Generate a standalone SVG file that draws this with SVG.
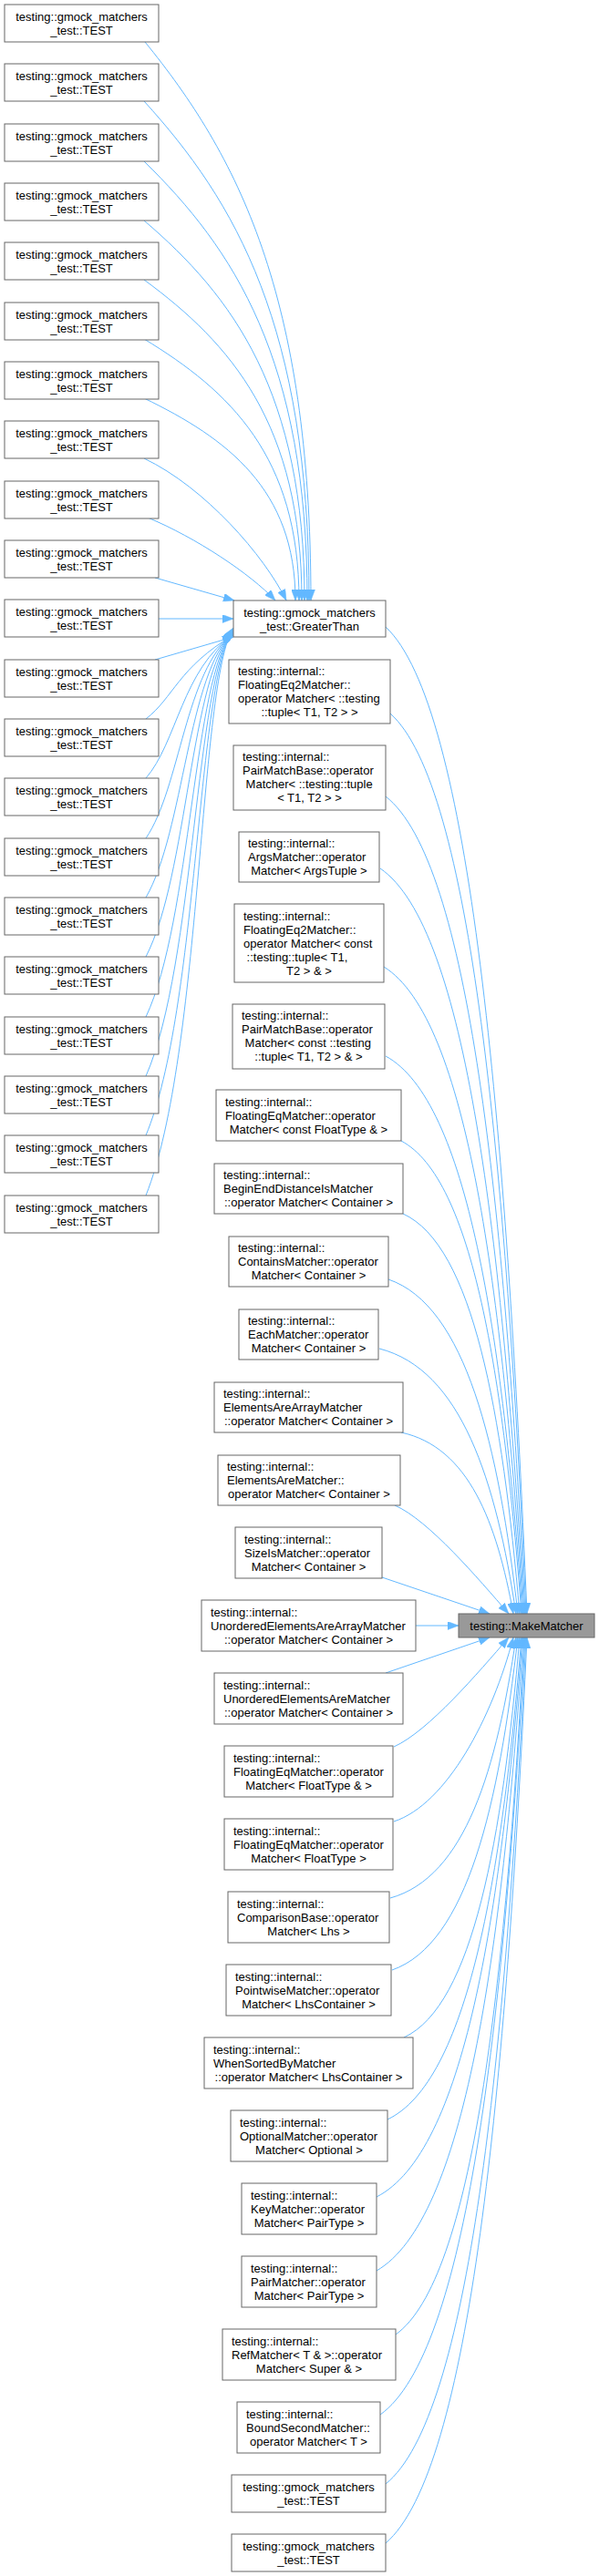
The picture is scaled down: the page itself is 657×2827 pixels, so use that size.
<svg xmlns="http://www.w3.org/2000/svg" width="657" height="2827" viewBox="0 0 657 2827">
<style>
.n rect{fill:#fff;stroke:#666;stroke-width:1}
.hl rect{fill:#999}
text{font-family:"Liberation Sans",Arial,Helvetica,sans-serif;font-size:13px;fill:#000}
.c{text-anchor:middle}
#edges path{fill:none;stroke:#63b8ff;stroke-width:1;marker-end:url(#ah)}
</style>
<defs>
<marker id="ah" viewBox="0 0 12 9" refX="12" refY="4.5" markerWidth="12" markerHeight="9" markerUnits="userSpaceOnUse" orient="auto">
<path d="M0,0 L12,4.5 L0,9 Z" fill="#63b8ff" stroke="#63b8ff" stroke-width="0.5"/>
</marker>
</defs>
<rect x="0" y="0" width="657" height="2827" fill="#fff"/>
<g id="edges">
<path d="M159,46 C259,169 341,322 341,659"/>
<path d="M158,111 C258,221 339,358 339,659"/>
<path d="M158,177 C256,273 337,394 337,659"/>
<path d="M158,242 C255,325 334,430 334,659"/>
<path d="M158,307 C253,377 331,465 331,659"/>
<path d="M158,372 C252,429 328,501 328,659"/>
<path d="M158,437 C249,481 324,537 324,659"/>
<path d="M158,503 C225,535 290,610 314,659"/>
<path d="M162,568 C215,590 275,630 302,659"/>
<path d="M170,634 L257,659"/>
<path d="M174,679 L256,679"/>
<path d="M170,724 L256,699"/>
<path d="M160,789 C190,766 196,732 256,697"/>
<path d="M160,854 C194,815 200,734 256,696"/>
<path d="M160,920 C198,864 203,736 256,695"/>
<path d="M160,985 C202,912 206,738 256,694"/>
<path d="M160,1050 C206,961 209,740 256,693"/>
<path d="M160,1116 C210,1010 212,742 256,692"/>
<path d="M160,1181 C214,1058 214,744 256,691"/>
<path d="M160,1246 C218,1107 216,746 256,690"/>
<path d="M160,1312 C222,1156 218,748 256,689"/>
<path d="M423,688 C516,775 555,1229 578,1771"/>
<path d="M428,783 C517,862 555,1277 577,1771"/>
<path d="M423,874 C515,946 553,1322 576,1771"/>
<path d="M417,953 C512,1018 551,1362 575,1771"/>
<path d="M421,1061 C513,1118 551,1416 574,1771"/>
<path d="M423,1159 C513,1208 551,1465 573,1771"/>
<path d="M440,1252 C519,1294 552,1511 572,1771"/>
<path d="M442,1332 C519,1367 551,1551 570,1771"/>
<path d="M426,1404 C511,1433 547,1587 568,1771"/>
<path d="M416,1480 C506,1503 544,1625 566,1771"/>
<path d="M440,1572 C514,1588 545,1671 563,1771"/>
<path d="M433,1652 C470,1668 525,1733 558,1771"/>
<path d="M419,1731 L537,1771"/>
<path d="M456,1784 L503,1784"/>
<path d="M423,1836 L537,1797"/>
<path d="M432,1917 C470,1900 525,1835 558,1797"/>
<path d="M432,1999 C490,1980 540,1885 563,1797"/>
<path d="M428,2083 C511,2060 545,1940 566,1797"/>
<path d="M430,2162 C513,2133 547,1980 568,1797"/>
<path d="M443,2236 C519,2201 551,2017 570,1797"/>
<path d="M425,2326 C513,2284 550,2062 572,1797"/>
<path d="M413,2411 C509,2362 549,2104 573,1797"/>
<path d="M413,2492 C510,2436 550,2145 574,1797"/>
<path d="M434,2562 C519,2501 554,2180 575,1797"/>
<path d="M417,2650 C512,2582 552,2224 576,1797"/>
<path d="M423,2726 C515,2652 554,2262 577,1797"/>
<path d="M423,2791 C516,2711 555,2294 578,1797"/>
</g>
<g id="test0" class="n" transform="translate(5,5)"><rect width="169" height="41"/><text class="c" x="84.5" y="17.5">testing::gmock_matchers</text><text class="c" x="84.5" y="32.5">_test::TEST</text></g>
<g id="test1" class="n" transform="translate(5,70)"><rect width="169" height="41"/><text class="c" x="84.5" y="17.5">testing::gmock_matchers</text><text class="c" x="84.5" y="32.5">_test::TEST</text></g>
<g id="test2" class="n" transform="translate(5,136)"><rect width="169" height="41"/><text class="c" x="84.5" y="17.5">testing::gmock_matchers</text><text class="c" x="84.5" y="32.5">_test::TEST</text></g>
<g id="test3" class="n" transform="translate(5,201)"><rect width="169" height="41"/><text class="c" x="84.5" y="17.5">testing::gmock_matchers</text><text class="c" x="84.5" y="32.5">_test::TEST</text></g>
<g id="test4" class="n" transform="translate(5,266)"><rect width="169" height="41"/><text class="c" x="84.5" y="17.5">testing::gmock_matchers</text><text class="c" x="84.5" y="32.5">_test::TEST</text></g>
<g id="test5" class="n" transform="translate(5,332)"><rect width="169" height="41"/><text class="c" x="84.5" y="17.5">testing::gmock_matchers</text><text class="c" x="84.5" y="32.5">_test::TEST</text></g>
<g id="test6" class="n" transform="translate(5,397)"><rect width="169" height="41"/><text class="c" x="84.5" y="17.5">testing::gmock_matchers</text><text class="c" x="84.5" y="32.5">_test::TEST</text></g>
<g id="test7" class="n" transform="translate(5,462)"><rect width="169" height="41"/><text class="c" x="84.5" y="17.5">testing::gmock_matchers</text><text class="c" x="84.5" y="32.5">_test::TEST</text></g>
<g id="test8" class="n" transform="translate(5,528)"><rect width="169" height="41"/><text class="c" x="84.5" y="17.5">testing::gmock_matchers</text><text class="c" x="84.5" y="32.5">_test::TEST</text></g>
<g id="test9" class="n" transform="translate(5,593)"><rect width="169" height="41"/><text class="c" x="84.5" y="17.5">testing::gmock_matchers</text><text class="c" x="84.5" y="32.5">_test::TEST</text></g>
<g id="test10" class="n" transform="translate(5,658)"><rect width="169" height="41"/><text class="c" x="84.5" y="17.5">testing::gmock_matchers</text><text class="c" x="84.5" y="32.5">_test::TEST</text></g>
<g id="test11" class="n" transform="translate(5,724)"><rect width="169" height="41"/><text class="c" x="84.5" y="17.5">testing::gmock_matchers</text><text class="c" x="84.5" y="32.5">_test::TEST</text></g>
<g id="test12" class="n" transform="translate(5,789)"><rect width="169" height="41"/><text class="c" x="84.5" y="17.5">testing::gmock_matchers</text><text class="c" x="84.5" y="32.5">_test::TEST</text></g>
<g id="test13" class="n" transform="translate(5,854)"><rect width="169" height="41"/><text class="c" x="84.5" y="17.5">testing::gmock_matchers</text><text class="c" x="84.5" y="32.5">_test::TEST</text></g>
<g id="test14" class="n" transform="translate(5,920)"><rect width="169" height="41"/><text class="c" x="84.5" y="17.5">testing::gmock_matchers</text><text class="c" x="84.5" y="32.5">_test::TEST</text></g>
<g id="test15" class="n" transform="translate(5,985)"><rect width="169" height="41"/><text class="c" x="84.5" y="17.5">testing::gmock_matchers</text><text class="c" x="84.5" y="32.5">_test::TEST</text></g>
<g id="test16" class="n" transform="translate(5,1050)"><rect width="169" height="41"/><text class="c" x="84.5" y="17.5">testing::gmock_matchers</text><text class="c" x="84.5" y="32.5">_test::TEST</text></g>
<g id="test17" class="n" transform="translate(5,1116)"><rect width="169" height="41"/><text class="c" x="84.5" y="17.5">testing::gmock_matchers</text><text class="c" x="84.5" y="32.5">_test::TEST</text></g>
<g id="test18" class="n" transform="translate(5,1181)"><rect width="169" height="41"/><text class="c" x="84.5" y="17.5">testing::gmock_matchers</text><text class="c" x="84.5" y="32.5">_test::TEST</text></g>
<g id="test19" class="n" transform="translate(5,1246)"><rect width="169" height="41"/><text class="c" x="84.5" y="17.5">testing::gmock_matchers</text><text class="c" x="84.5" y="32.5">_test::TEST</text></g>
<g id="test20" class="n" transform="translate(5,1312)"><rect width="169" height="41"/><text class="c" x="84.5" y="17.5">testing::gmock_matchers</text><text class="c" x="84.5" y="32.5">_test::TEST</text></g>
<g id="greaterthan" class="n" transform="translate(256,659)"><rect width="167" height="40"/><text class="c" x="83.5" y="17.5">testing::gmock_matchers</text><text class="c" x="83.5" y="32.5">_test::GreaterThan</text></g>
<g id="fe2t" class="n" transform="translate(251,724)"><rect width="177" height="70"/><text x="10" y="17">testing::internal::</text><text x="10" y="32">FloatingEq2Matcher::</text><text x="10" y="47">operator Matcher&lt; ::testing</text><text class="c" x="88.5" y="62">::tuple&lt; T1, T2 &gt; &gt;</text></g>
<g id="pmbt" class="n" transform="translate(256,818)"><rect width="167" height="71"/><text x="10" y="17">testing::internal::</text><text x="10" y="32">PairMatchBase::operator</text><text x="13.6" y="47">Matcher&lt; ::testing::tuple</text><text class="c" x="83.5" y="62">&lt; T1, T2 &gt; &gt;</text></g>
<g id="args" class="n" transform="translate(262,913)"><rect width="154" height="55"/><text x="10" y="17">testing::internal::</text><text x="10" y="32">ArgsMatcher::operator</text><text class="c" x="77" y="47">Matcher&lt; ArgsTuple &gt;</text></g>
<g id="fe2c" class="n" transform="translate(257,992)"><rect width="164" height="86"/><text x="10" y="17.5">testing::internal::</text><text x="10" y="32.5">FloatingEq2Matcher::</text><text x="10" y="47.5">operator Matcher&lt; const</text><text x="13.6" y="62.5">::testing::tuple&lt; T1,</text><text class="c" x="82" y="77.5">T2 &gt; &amp; &gt;</text></g>
<g id="pmbc" class="n" transform="translate(255,1102)"><rect width="167" height="71"/><text x="10" y="17">testing::internal::</text><text x="10" y="32">PairMatchBase::operator</text><text x="13.6" y="47">Matcher&lt; const ::testing</text><text class="c" x="83.5" y="62">::tuple&lt; T1, T2 &gt; &amp; &gt;</text></g>
<g id="femc" class="n" transform="translate(237,1196)"><rect width="203" height="56"/><text x="10" y="17.5">testing::internal::</text><text x="10" y="32.5">FloatingEqMatcher::operator</text><text class="c" x="101.5" y="47.5">Matcher&lt; const FloatType &amp; &gt;</text></g>
<g id="bedi" class="n" transform="translate(235,1277)"><rect width="207" height="55"/><text x="10" y="17">testing::internal::</text><text x="10" y="32">BeginEndDistanceIsMatcher</text><text class="c" x="103.5" y="47">::operator Matcher&lt; Container &gt;</text></g>
<g id="contains" class="n" transform="translate(251,1357)"><rect width="175" height="55"/><text x="10" y="17">testing::internal::</text><text x="10" y="32">ContainsMatcher::operator</text><text class="c" x="87.5" y="47">Matcher&lt; Container &gt;</text></g>
<g id="each" class="n" transform="translate(262,1437)"><rect width="153" height="55"/><text x="10" y="17">testing::internal::</text><text x="10" y="32">EachMatcher::operator</text><text class="c" x="76.5" y="47">Matcher&lt; Container &gt;</text></g>
<g id="eaa" class="n" transform="translate(235,1517)"><rect width="207" height="55"/><text x="10" y="17">testing::internal::</text><text x="10" y="32">ElementsAreArrayMatcher</text><text class="c" x="103.5" y="47">::operator Matcher&lt; Container &gt;</text></g>
<g id="ea" class="n" transform="translate(239,1597)"><rect width="200" height="55"/><text x="10" y="17">testing::internal::</text><text x="10" y="32">ElementsAreMatcher::</text><text class="c" x="100" y="47">operator Matcher&lt; Container &gt;</text></g>
<g id="sizeis" class="n" transform="translate(258,1676)"><rect width="161" height="56"/><text x="10" y="17.5">testing::internal::</text><text x="10" y="32.5">SizeIsMatcher::operator</text><text class="c" x="80.5" y="47.5">Matcher&lt; Container &gt;</text></g>
<g id="ueaa" class="n" transform="translate(221,1756)"><rect width="235" height="56"/><text x="10" y="17.5">testing::internal::</text><text x="10" y="32.5">UnorderedElementsAreArrayMatcher</text><text class="c" x="117.5" y="47.5">::operator Matcher&lt; Container &gt;</text></g>
<g id="uea" class="n" transform="translate(235,1836)"><rect width="207" height="56"/><text x="10" y="17.5">testing::internal::</text><text x="10" y="32.5">UnorderedElementsAreMatcher</text><text class="c" x="103.5" y="47.5">::operator Matcher&lt; Container &gt;</text></g>
<g id="feqref" class="n" transform="translate(246,1916)"><rect width="185" height="56"/><text x="10" y="17.5">testing::internal::</text><text x="10" y="32.5">FloatingEqMatcher::operator</text><text class="c" x="92.5" y="47.5">Matcher&lt; FloatType &amp; &gt;</text></g>
<g id="feq" class="n" transform="translate(246,1996)"><rect width="185" height="56"/><text x="10" y="17.5">testing::internal::</text><text x="10" y="32.5">FloatingEqMatcher::operator</text><text class="c" x="92.5" y="47.5">Matcher&lt; FloatType &gt;</text></g>
<g id="comparison" class="n" transform="translate(250,2076)"><rect width="177" height="56"/><text x="10" y="17.5">testing::internal::</text><text x="10" y="32.5">ComparisonBase::operator</text><text class="c" x="88.5" y="47.5">Matcher&lt; Lhs &gt;</text></g>
<g id="pointwise" class="n" transform="translate(248,2156)"><rect width="181" height="56"/><text x="10" y="17.5">testing::internal::</text><text x="10" y="32.5">PointwiseMatcher::operator</text><text class="c" x="90.5" y="47.5">Matcher&lt; LhsContainer &gt;</text></g>
<g id="whensorted" class="n" transform="translate(224,2236)"><rect width="229" height="56"/><text x="10" y="17.5">testing::internal::</text><text x="10" y="32.5">WhenSortedByMatcher</text><text class="c" x="114.5" y="47.5">::operator Matcher&lt; LhsContainer &gt;</text></g>
<g id="optional" class="n" transform="translate(253,2316)"><rect width="172" height="56"/><text x="10" y="17.5">testing::internal::</text><text x="10" y="32.5">OptionalMatcher::operator</text><text class="c" x="86" y="47.5">Matcher&lt; Optional &gt;</text></g>
<g id="key" class="n" transform="translate(265,2396)"><rect width="148" height="56"/><text x="10" y="17.5">testing::internal::</text><text x="10" y="32.5">KeyMatcher::operator</text><text class="c" x="74" y="47.5">Matcher&lt; PairType &gt;</text></g>
<g id="pair" class="n" transform="translate(265,2476)"><rect width="148" height="56"/><text x="10" y="17.5">testing::internal::</text><text x="10" y="32.5">PairMatcher::operator</text><text class="c" x="74" y="47.5">Matcher&lt; PairType &gt;</text></g>
<g id="ref" class="n" transform="translate(244,2556)"><rect width="190" height="56"/><text x="10" y="17.5">testing::internal::</text><text x="10" y="32.5">RefMatcher&lt; T &amp; &gt;::operator</text><text class="c" x="95" y="47.5">Matcher&lt; Super &amp; &gt;</text></g>
<g id="boundsecond" class="n" transform="translate(260,2636)"><rect width="157" height="56"/><text x="10" y="17.5">testing::internal::</text><text x="10" y="32.5">BoundSecondMatcher::</text><text class="c" x="78.5" y="47.5">operator Matcher&lt; T &gt;</text></g>
<g id="test21" class="n" transform="translate(254,2716)"><rect width="169" height="41"/><text class="c" x="84.5" y="17.5">testing::gmock_matchers</text><text class="c" x="84.5" y="32.5">_test::TEST</text></g>
<g id="test22" class="n" transform="translate(254,2781)"><rect width="169" height="41"/><text class="c" x="84.5" y="17.5">testing::gmock_matchers</text><text class="c" x="84.5" y="32.5">_test::TEST</text></g>
<g id="makematcher" class="n hl" transform="translate(503,1771)"><rect width="149" height="26"/><text class="c" x="74.5" y="17.5">testing::MakeMatcher</text></g>
</svg>
